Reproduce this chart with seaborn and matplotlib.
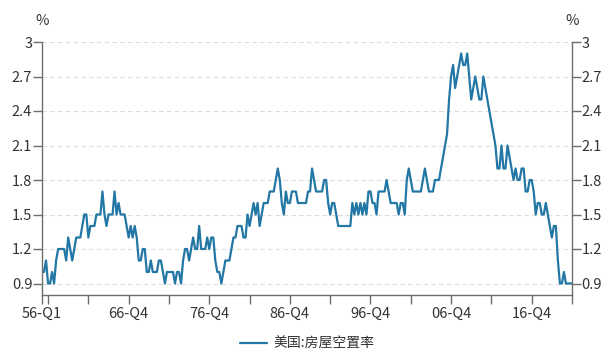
import numpy as np
import pandas as pd
import matplotlib
matplotlib.use("Agg")
import matplotlib.pyplot as plt
import seaborn as sns

# quarterly homeowner vacancy rate (%), 1956-Q1 .. 2021-Q4, one row per year
vacancy_by_year = [
    [1.0, 1.0, 1.1, 0.9], [0.9, 1.0, 0.9, 1.1], [1.2, 1.2, 1.2, 1.2], [1.1, 1.3, 1.2, 1.1],
    [1.2, 1.3, 1.3, 1.3], [1.4, 1.5, 1.5, 1.3], [1.4, 1.4, 1.4, 1.5], [1.5, 1.5, 1.7, 1.5],
    [1.4, 1.5, 1.5, 1.5], [1.7, 1.5, 1.6, 1.5], [1.5, 1.5, 1.4, 1.3], [1.4, 1.3, 1.4, 1.3],
    [1.1, 1.1, 1.2, 1.2], [1.0, 1.0, 1.1, 1.0], [1.0, 1.0, 1.1, 1.1], [1.0, 0.9, 1.0, 1.0],
    [1.0, 1.0, 0.9, 1.0], [1.0, 0.9, 1.1, 1.2], [1.2, 1.1, 1.2, 1.3], [1.2, 1.2, 1.4, 1.2],
    [1.2, 1.2, 1.3, 1.2], [1.3, 1.3, 1.1, 1.0], [1.0, 0.9, 1.0, 1.1], [1.1, 1.1, 1.2, 1.3],
    [1.3, 1.4, 1.4, 1.4], [1.3, 1.3, 1.5, 1.4], [1.5, 1.6, 1.5, 1.6], [1.4, 1.5, 1.6, 1.6],
    [1.6, 1.7, 1.7, 1.7], [1.8, 1.9, 1.8, 1.6], [1.5, 1.7, 1.6, 1.6], [1.7, 1.7, 1.7, 1.6],
    [1.6, 1.6, 1.6, 1.6], [1.7, 1.7, 1.9, 1.8], [1.7, 1.7, 1.7, 1.7], [1.8, 1.8, 1.6, 1.5],
    [1.6, 1.6, 1.5, 1.4], [1.4, 1.4, 1.4, 1.4], [1.4, 1.4, 1.6, 1.5], [1.6, 1.5, 1.6, 1.5],
    [1.6, 1.5, 1.7, 1.7], [1.6, 1.6, 1.5, 1.7], [1.7, 1.7, 1.7, 1.8], [1.7, 1.6, 1.6, 1.6],
    [1.6, 1.5, 1.6, 1.6], [1.5, 1.8, 1.9, 1.8], [1.7, 1.7, 1.7, 1.7], [1.7, 1.8, 1.9, 1.8],
    [1.7, 1.7, 1.7, 1.8], [1.8, 1.8, 1.9, 2.0], [2.1, 2.2, 2.5, 2.7], [2.8, 2.6, 2.7, 2.8],
    [2.9, 2.8, 2.8, 2.9], [2.7, 2.5, 2.6, 2.7], [2.6, 2.5, 2.5, 2.7], [2.6, 2.5, 2.4, 2.3],
    [2.2, 2.1, 1.9, 1.9], [2.1, 1.9, 1.9, 2.1], [2.0, 1.9, 1.8, 1.9], [1.8, 1.8, 1.9, 1.9],
    [1.7, 1.7, 1.8, 1.8], [1.7, 1.5, 1.6, 1.6], [1.5, 1.5, 1.6, 1.5], [1.4, 1.3, 1.4, 1.4],
    [1.1, 0.9, 0.9, 1.0], [0.9, 0.9, 0.9, 0.9],
]
first_year = 1956
series_name = "美国:房屋空置率"
y_ticks = [0.9, 1.2, 1.5, 1.8, 2.1, 2.4, 2.7, 3.0]
y_tick_labels = ["0.9", "1.2", "1.5", "1.8", "2.1", "2.4", "2.7", "3"]
x_label_idx = [0, 43, 83, 123, 163, 203, 243]

values = [v for row in vacancy_by_year for v in row]
quarters = [f"{(first_year + k // 4) % 100:02d}-Q{k % 4 + 1}" for k in range(len(values))]
df = pd.DataFrame({"idx": np.arange(len(values)), "quarter": quarters, "rate": values})

sns.set_theme(style="white")
plt.rcParams["font.family"] = ["Noto Sans CJK SC", "DejaVu Sans"]

fig = plt.figure(figsize=(6.15, 3.53), dpi=100)
ax = fig.add_axes([42 / 615, 1 - 295 / 353, 530 / 615, 253 / 353])

sns.lineplot(data=df, x="idx", y="rate", ax=ax, color="#2277a5", linewidth=1.6,
             label=series_name, legend=False)

ax.set_xlim(0, len(values) - 1)
ax.set_ylim(0.8, 3.0)
ax.set_yticks(y_ticks)
ax.set_yticklabels(y_tick_labels)
ax.set_xticks(x_label_idx)
ax.set_xticklabels([quarters[i] for i in x_label_idx])
ax.set_xticks(list(range(3, len(values), 20)), minor=True)
ax.set_xlabel("")
ax.set_ylabel("")

for y in y_ticks:
    ax.axhline(y, color="#dcdcdc", lw=0.8, ls=(0, (4, 3)), zorder=0)

axis_col = "#6e6e6e"
for side in ["left", "right", "bottom"]:
    ax.spines[side].set_visible(True)
    ax.spines[side].set_color(axis_col)
    ax.spines[side].set_linewidth(1.0)
ax.spines["top"].set_visible(False)

ax.tick_params(axis="y", which="both", left=True, right=True, labelleft=True, labelright=True,
               length=6.5, width=1.0, color=axis_col, labelsize=10.5, labelcolor="#333333", pad=0.5)
ax.tick_params(axis="x", which="both", bottom=True, length=6.5, width=1.0, color=axis_col,
               labelsize=10.5, labelcolor="#333333", pad=2)

fig.text(42 / 615, 1 - 21 / 353, "%", ha="center", va="center", fontsize=10.5, color="#333333")
fig.text(572 / 615, 1 - 21 / 353, "%", ha="center", va="center", fontsize=10.5, color="#333333")

handles, labels = ax.get_legend_handles_labels()
fig.legend(handles, labels, loc="center", bbox_to_anchor=(0.5, 1 - 344 / 353), frameon=False,
           fontsize=10, handlelength=1.9, handletextpad=0.5, labelcolor="#333333")

fig.savefig("out.png", dpi=100)
